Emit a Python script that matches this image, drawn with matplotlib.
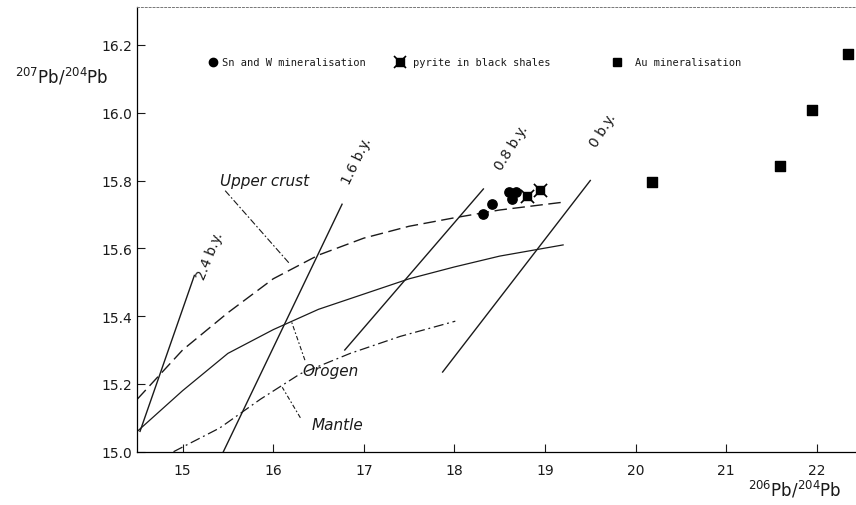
import matplotlib
matplotlib.use("Agg")
import matplotlib.pyplot as plt
from matplotlib.lines import Line2D

# ---------------- data ----------------
upper_crust_x = [14.5, 15.0, 15.5, 16.0, 16.5, 17.0, 17.5, 18.0, 18.5, 19.2]
upper_crust_y = [15.155, 15.30, 15.41, 15.51, 15.58, 15.63, 15.665, 15.69, 15.713, 15.736]
orogen_x = [14.5, 15.0, 15.5, 16.0, 16.5, 17.0, 17.5, 18.0, 18.5, 19.2]
orogen_y = [15.06, 15.18, 15.29, 15.36, 15.42, 15.465, 15.51, 15.545, 15.577, 15.61]
mantle_x = [14.90, 15.41, 15.86, 16.30, 16.85, 17.40, 18.01]
mantle_y = [15.00, 15.07, 15.155, 15.23, 15.29, 15.34, 15.385]

isochron_labels = ["2.4 b.y.", "1.6 b.y.", "0.8 b.y.", "0 b.y."]
isochron_x0 = [14.53, 15.45, 16.79, 17.87]
isochron_y0 = [15.06, 15.00, 15.30, 15.235]
isochron_x1 = [15.13, 16.76, 18.32, 19.50]
isochron_y1 = [15.52, 15.73, 15.775, 15.80]

snw_x = [18.32, 18.41, 18.60, 18.68, 18.64]
snw_y = [15.70, 15.73, 15.765, 15.765, 15.745]
pyr_x = [18.80, 18.94]
pyr_y = [15.755, 15.773]
au_x = [20.18, 21.59, 21.95, 22.34]
au_y = [15.796, 15.843, 16.008, 16.173]

x_ticks = [15, 16, 17, 18, 19, 20, 21, 22]
y_ticks = [15.0, 15.2, 15.4, 15.6, 15.8, 16.0, 16.2]

legend_labels = ["Sn and W mineralisation", "pyrite in black shales", "Au mineralisation"]

# ---------------- figure ----------------
W, H = 856, 506
fig = plt.figure(figsize=(W / 100, H / 100), dpi=100)

def fx(px):
    return px / W

def fy(py):
    return 1 - py / H

left_px, right_px, top_px, bot_px = 137.3, 856, 8, 452.7
ax = fig.add_axes([fx(left_px), fy(bot_px), fx(right_px - left_px), (bot_px - top_px) / H])
ax.set_xlim(14.5, 14.5 + (right_px - left_px) / 90.6)
ax.set_ylim(15.0, 15.0 + (bot_px - top_px) / 339.0)

col = "#1a1a1a"
ax.plot(upper_crust_x, upper_crust_y, color=col, lw=1.0, dashes=(9, 4))
ax.plot(orogen_x, orogen_y, color=col, lw=0.9)
ax.plot(mantle_x, mantle_y, color=col, lw=0.9, dashes=(8, 3, 1.5, 3))

rots = [68, 64, 58, 58]
lab_x = [15.30, 16.92, 18.63, 19.64]
lab_y = [15.58, 15.86, 15.90, 15.95]
for i, lab in enumerate(isochron_labels):
    ax.plot([isochron_x0[i], isochron_x1[i]], [isochron_y0[i], isochron_y1[i]],
            color=col, lw=1.0)
    ax.text(lab_x[i], lab_y[i], lab, rotation=rots[i], ha="center", va="center",
            fontsize=10, color=col, family="DejaVu Sans")

# curve labels with leader lines
ax.text(15.91, 15.80, "Upper crust", fontsize=11, style="italic", ha="center",
        va="center", color=col)
ax.plot([15.47, 16.18], [15.77, 15.555], color=col, lw=0.8, dashes=(6, 2, 1.5, 2))
ax.text(16.63, 15.24, "Orogen", fontsize=11, style="italic", ha="center",
        va="center", color=col)
ax.plot([16.35, 16.20], [15.27, 15.385], color=col, lw=0.8, dashes=(4, 2, 1.5, 2))
ax.text(16.71, 15.08, "Mantle", fontsize=11, style="italic", ha="center",
        va="center", color=col)
ax.plot([16.30, 16.10], [15.10, 15.19], color=col, lw=0.8, dashes=(4, 2, 1.5, 2))

# data points
ax.scatter(snw_x, snw_y, s=45, marker="o", color="black", zorder=5)
ax.scatter(pyr_x, pyr_y, s=40, marker="s", color="black", zorder=5)
ax.scatter(pyr_x, pyr_y, s=90, marker="x", color="black", lw=1.2, zorder=5)
ax.scatter(au_x, au_y, s=55, marker="s", color="black", zorder=5, clip_on=False)

# axes styling
ax.set_xticks(x_ticks)
ax.set_yticks(y_ticks)
ax.set_xticklabels([str(t) for t in x_ticks])
ax.set_yticklabels(["%.1f" % t for t in y_ticks])
ax.tick_params(direction="in", length=6, width=0.8, labelsize=10, colors=col)
ax.tick_params(axis="x", pad=8)
ax.spines["right"].set_visible(False)
ax.spines["top"].set_linestyle((0, (2, 2)))
ax.spines["top"].set_color("#777777")
ax.spines["top"].set_linewidth(0.7)
ax.spines["left"].set_linewidth(0.9)
ax.spines["bottom"].set_linewidth(0.9)

# axis labels
fig.text(fx(62), fy(77), r"$^{207}\mathrm{Pb}/^{204}\mathrm{Pb}$", fontsize=12,
         ha="center", va="center", color=col)
fig.text(fx(795), fy(490), r"$^{206}\mathrm{Pb}/^{204}\mathrm{Pb}$", fontsize=12,
         ha="center", va="center", color=col)

# legend drawn as figure elements
ly = fy(63)
leg_marker_px = [213, 400, 617]
leg_text_px = [222, 413, 635]
markers = ["o", "s", "s"]
for i in range(3):
    fig.lines.append(Line2D([fx(leg_marker_px[i])], [ly], marker=markers[i],
                            color="black", markersize=6, transform=fig.transFigure))
    fig.text(fx(leg_text_px[i]), ly, legend_labels[i], fontsize=7.5,
             family="DejaVu Sans Mono", ha="left", va="center", color=col)
fig.lines.append(Line2D([fx(400)], [ly], marker="x", color="black", markersize=9,
                        markeredgewidth=1.2, transform=fig.transFigure))

fig.savefig("out.png", dpi=100)
